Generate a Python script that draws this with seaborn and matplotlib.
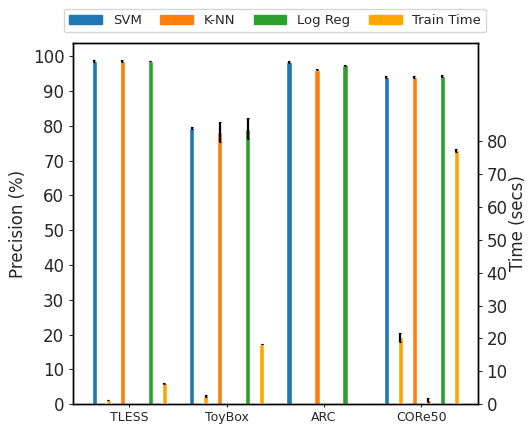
import matplotlib
matplotlib.use("Agg")
import matplotlib.pyplot as plt
from matplotlib.patches import Patch
import seaborn as sns
import numpy as np

sns.set_style("ticks")
plt.rcParams["font.family"] = ["DejaVu Sans"]

# Values
datasets = ["TLESS", "ToyBox", "ARC", "CORe50"]

svm_prec = [98.6, 79.4, 98.3, 94.0]
svm_prec_err = [0.2, 0.3, 0.3, 0.2]
knn_prec = [98.6, 78.2, 96.1, 94.0]
knn_prec_err = [0.2, 3.0, 0.2, 0.2]
lr_prec = [98.6, 79.1, 97.4, 94.3]
lr_prec_err = [0.1, 3.0, 0.2, 0.3]

svm_time = [1.3, 2.5, 0.2, 20.4]
svm_time_err = [0.1, 0.2, 0.0, 1.4]
knn_time = [0.1, 0.1, 0.1, 1.3]
knn_time_err = [0.0, 0.0, 0.0, 0.5]
lr_time = [6.3, 18.3, 0.1, 77.3]
lr_time_err = [0.1, 0.1, 0.0, 0.5]

labels = ["SVM", "K-NN", "Log Reg", "Train Time"]
tab = sns.color_palette("tab10")
colors = [tab[0], tab[1], tab[2], "#FFA500"]

x = np.arange(len(datasets))
step = 0.144
width = 0.056
err_kw = dict(ecolor="black", elinewidth=1.6, capsize=1.0, capthick=0.8)

fig = plt.figure(figsize=(5.28, 4.25), dpi=100)
ax = fig.add_axes([0.138, 0.049, 0.767, 0.850])
ax2 = ax.twinx()

prec = [(svm_prec, svm_prec_err), (knn_prec, knn_prec_err), (lr_prec, lr_prec_err)]
times = [(svm_time, svm_time_err), (knn_time, knn_time_err), (lr_time, lr_time_err)]

for i, ((p, pe), (t, te)) in enumerate(zip(prec, times)):
    ax.bar(x + (2 * i - 2.5) * step, p, width, yerr=pe, color=colors[i], error_kw=err_kw)
    ax2.bar(x + (2 * i - 1.5) * step, t, width, yerr=te, color=colors[3], error_kw=err_kw)

ax.set_xlim(-0.58, 3.58)
ax.set_ylim(0, 103.8)
ax.set_yticks(range(0, 101, 10))
ax.set_xticks(x)
ax.set_xticklabels(datasets, fontsize=9)
ax.tick_params(axis="y", labelsize=12, length=3.2, pad=3)
ax.tick_params(axis="x", length=2.5, pad=2.5)
ax.set_ylabel("Precision (%)", fontsize=12, labelpad=4)

ax2.set_ylim(0, 110)
ax2.set_yticks(range(0, 81, 10))
ax2.tick_params(axis="y", labelsize=12, length=3.2, pad=3)
ax2.set_ylabel("Time (secs)", fontsize=12, labelpad=1)

for a in (ax, ax2):
    for s in a.spines.values():
        s.set_color("black")
        s.set_linewidth(1)

handles = [Patch(color=c, label=l) for c, l in zip(colors, labels)]
fig.legend(handles=handles, loc="upper center", bbox_to_anchor=(0.521, 0.995),
           ncol=4, fontsize=9.5, frameon=True, handlelength=2.5, columnspacing=1.4)

fig.savefig("out.png", dpi=100)
